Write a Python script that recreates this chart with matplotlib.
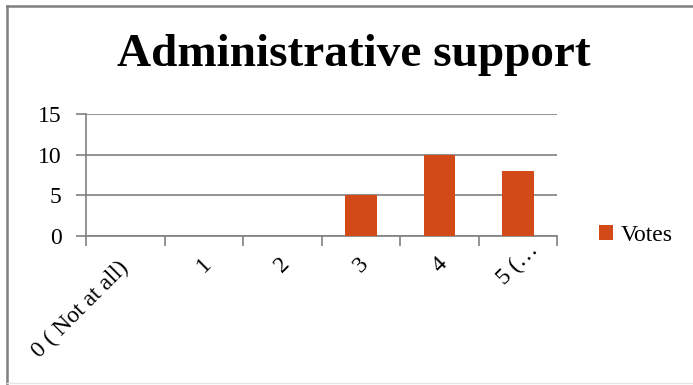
import matplotlib
matplotlib.use("Agg")
import matplotlib.pyplot as plt
from matplotlib.lines import Line2D
from matplotlib.patches import Patch

categories = ["0 ( Not at all)", "1", "2", "3", "4", "5 (…"]
votes = [0, 0, 0, 5, 10, 8]
yticks = [0, 5, 10, 15]

BAR = "#D24A18"
GRID = "#808080"
SERIF = ["Liberation Serif", "DejaVu Serif"]

plt.rcParams["font.family"] = SERIF

fig = plt.figure(figsize=(6.93, 3.85), dpi=100)
ax = fig.add_axes([0.1248, 0.3883, 0.679, 0.3156])

x = list(range(len(categories)))
ax.bar(x, votes, width=0.4, color=BAR, zorder=3, label="Votes")

ax.set_xlim(-0.5, len(categories) - 0.5)
ax.set_ylim(0, 15)
ax.set_yticks(yticks)
ax.set_yticklabels([str(v) for v in yticks], fontsize=17)
ax.yaxis.grid(True, color=GRID, linewidth=1.2, zorder=0)
ax.set_axisbelow(True)

# category boundaries as ticks, labels at category centres
ax.set_xticks([i - 0.5 for i in range(len(categories) + 1)])
ax.set_xticklabels([])
ax.set_xticks(x, minor=True)
labels = ax.set_xticklabels(categories, minor=True, rotation=45, ha="center",
                            va="center", rotation_mode="anchor", fontsize=17)
labels[0].set_ha("right")
ax.tick_params(axis="x", which="minor", length=0, pad=21)
ax.tick_params(axis="x", which="major", length=7, width=1.2, color=GRID, direction="out")
ax.tick_params(axis="y", length=7, width=1.2, color=GRID, direction="out", pad=11)

for side in ("top", "right"):
    ax.spines[side].set_visible(False)
for side in ("left", "bottom"):
    ax.spines[side].set_color(GRID)
    ax.spines[side].set_linewidth(1.2)

fig.text(0.51, 0.828, "Administrative support", ha="center", va="baseline",
         fontsize=34, fontweight="bold")

handles = [Patch(facecolor=BAR, edgecolor="none", label="Votes")]
fig.legend(handles=handles, loc="center left", bbox_to_anchor=(0.8644, 0.388),
           frameon=False, fontsize=17, handlelength=0.6, handleheight=0.6,
           handletextpad=0.3, borderpad=0, borderaxespad=0)

# chart frame
fig.add_artist(Line2D([6.5 / 693, 1.0], [1 - 6 / 385, 1 - 6 / 385],
                      transform=fig.transFigure, color="#7f7f7f", linewidth=1.8))
fig.add_artist(Line2D([6.5 / 693, 6.5 / 693], [0, 1 - 6 / 385],
                      transform=fig.transFigure, color="#7f7f7f", linewidth=1.8))
fig.add_artist(Line2D([6.5 / 693, 1.0], [2.5 / 385, 2.5 / 385],
                      transform=fig.transFigure, color="#e6e6e6", linewidth=1.0))

fig.savefig("out.png", dpi=100, facecolor="white")
